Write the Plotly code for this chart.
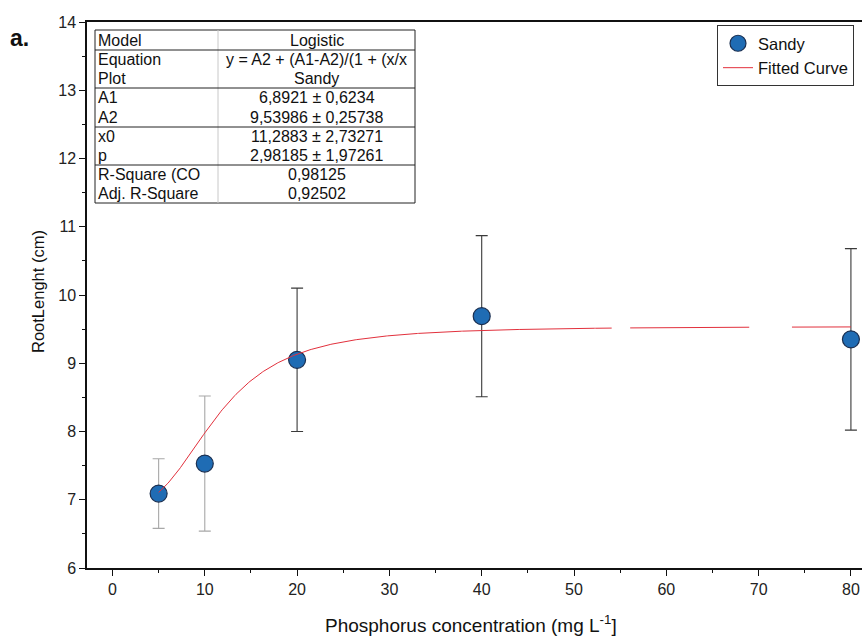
import numpy as np
import plotly.graph_objects as go

# ---- data ----
conc = [5, 10, 20, 40, 80]
root_len = [7.09, 7.53, 9.05, 9.69, 9.35]
root_err = [0.51, 0.99, 1.05, 1.18, 1.33]
light_err_idx = [0, 1]      # error bars drawn in light grey in the reference
dark_err_idx = [2, 3, 4]

# Logistic fit parameters (from the table)
A1, A2, X0, P = 6.8921, 9.53986, 11.2883, 2.98185
fit_range = [5, 80]
fit_gaps = [[54.2, 56.0], [69.0, 73.6]]  # small rendering gaps visible in the curve

table_labels = ["Model", "Equation", "Plot", "A1", "A2", "x0", "p",
                "R-Square (CO", "Adj. R-Square"]
table_values = ["Logistic", "y = A2 + (A1-A2)/(1 + (x/x", "Sandy",
                "6,8921 ± 0,6234", "9,53986 ± 0,25738",
                "11,2883 ± 2,73271", "2,98185 ± 1,97261",
                "0,98125", "0,92502"]

x_ticks = [0, 10, 20, 30, 40, 50, 60, 70, 80]
y_ticks = [6, 7, 8, 9, 10, 11, 12, 13, 14]

# ---- fitted curve ----
xf = np.linspace(fit_range[0], fit_range[1], 600)
yf = A2 + (A1 - A2) / (1 + (xf / X0) ** P)
mask = np.zeros_like(xf, dtype=bool)
for g0, g1 in fit_gaps:
    mask |= (xf > g0) & (xf < g1)
yf = np.where(mask, np.nan, yf)

W, H = 862, 637
L, R, T, B = 87, 0, 22, 69
pw, ph = W - L - R, H - T - B


def px(x):
    return (x - L) / pw


def py(y):
    return (H - B - y) / ph


FONT = "Liberation Sans, Arial, sans-serif"

fig = go.Figure()
for idx, col in [(light_err_idx, "#a8a8a8"), (dark_err_idx, "#3a3a3a")]:
    fig.add_trace(go.Scatter(
        x=[conc[i] for i in idx], y=[root_len[i] for i in idx], mode="markers",
        marker=dict(size=1, opacity=0), showlegend=False, hoverinfo="skip",
        error_y=dict(type="data", array=[root_err[i] for i in idx], visible=True,
                     color=col, thickness=1.1, width=6),
        cliponaxis=False,
    ))
fig.add_trace(go.Scatter(
    x=conc, y=root_len, mode="markers", name="Sandy",
    marker=dict(size=17, color="#1f6cb4", line=dict(color="#1b2f50", width=1.2)),
    cliponaxis=False,
))
fig.add_trace(go.Scatter(
    x=xf, y=yf, mode="lines", name="Fitted Curve",
    line=dict(color="#e2303c", width=1), connectgaps=False,
))

# ---- table ----
shapes = []
tl, tr, tt, tb = 95, 415, 30, 203
sep_x = 218
shapes.append(dict(type="rect", xref="paper", yref="paper",
                   x0=px(tl), x1=px(tr), y0=py(tb), y1=py(tt),
                   line=dict(color="#222", width=1), fillcolor="white", layer="above"))
shapes.append(dict(type="line", xref="paper", yref="paper",
                   x0=px(sep_x), x1=px(sep_x), y0=py(tb), y1=py(tt),
                   line=dict(color="#c8c8c8", width=1), layer="above"))
row_edges = [30, 50, 69, 88, 107.5, 127, 146, 165, 184, 203]
for yline in [50, 88, 127, 165]:
    shapes.append(dict(type="line", xref="paper", yref="paper",
                       x0=px(tl), x1=px(tr), y0=py(yline), y1=py(yline),
                       line=dict(color="#222", width=1), layer="above"))

annotations = []
for i, (lab, val) in enumerate(zip(table_labels, table_values)):
    yc = (row_edges[i] + row_edges[i + 1]) / 2
    annotations.append(dict(x=px(tl + 1), y=py(yc), xref="paper", yref="paper",
                            text=lab, showarrow=False, xanchor="left", yanchor="middle",
                            font=dict(family=FONT, size=16, color="#111")))
    annotations.append(dict(x=px((sep_x + tr) / 2), y=py(yc), xref="paper", yref="paper",
                            text=val, showarrow=False, xanchor="center", yanchor="middle",
                            font=dict(family=FONT, size=16, color="#111")))

annotations.append(dict(x=px(8), y=py(38), xref="paper", yref="paper", text="<b>a.</b>",
                        showarrow=False, xanchor="left", yanchor="middle",
                        font=dict(family=FONT, size=23, color="#111")))
annotations.append(dict(x=px(471), y=py(624), xref="paper", yref="paper",
                        text="Phosphorus concentration (mg L<sup>-1</sup>]",
                        showarrow=False, xanchor="center", yanchor="middle",
                        font=dict(family=FONT, size=19, color="#111")))
annotations.append(dict(x=px(38), y=py(291), xref="paper", yref="paper",
                        text="RootLenght (cm)", textangle=-90,
                        showarrow=False, xanchor="center", yanchor="middle",
                        font=dict(family=FONT, size=16.5, color="#111")))

fig.update_layout(
    width=W, height=H,
    margin=dict(l=L, r=R, t=T, b=B),
    paper_bgcolor="white", plot_bgcolor="white",
    font=dict(family=FONT, color="#111"),
    shapes=shapes, annotations=annotations,
    legend=dict(x=px(717), y=py(25), xanchor="left", yanchor="top",
                bgcolor="white", bordercolor="#333", borderwidth=1,
                font=dict(family=FONT, size=16.5, color="#111"),
                tracegroupgap=0),
    showlegend=True,
)
fig.update_xaxes(range=[-2.76, 81.2], tickvals=x_ticks, ticktext=[str(v) for v in x_ticks],
                 showgrid=False, zeroline=False, showline=True, linecolor="#111",
                 linewidth=1.5, mirror=True, ticks="outside", ticklen=6, tickwidth=1,
                 tickcolor="#111", tickfont=dict(size=16, family=FONT, color="#222"),
                 minor=dict(dtick=5, tick0=0, ticks="outside", ticklen=3, tickcolor="#111"))
fig.update_yaxes(range=[6, 14], tickvals=y_ticks, ticktext=[str(v) for v in y_ticks],
                 showgrid=False, zeroline=False, showline=True, linecolor="#111",
                 linewidth=1.5, mirror=False, ticks="outside", ticklen=6, tickwidth=1,
                 tickcolor="#111", tickfont=dict(size=16, family=FONT, color="#222"),
                 minor=dict(dtick=0.5, tick0=6, ticks="outside", ticklen=3, tickcolor="#111"))

fig.write_html("out.html")
